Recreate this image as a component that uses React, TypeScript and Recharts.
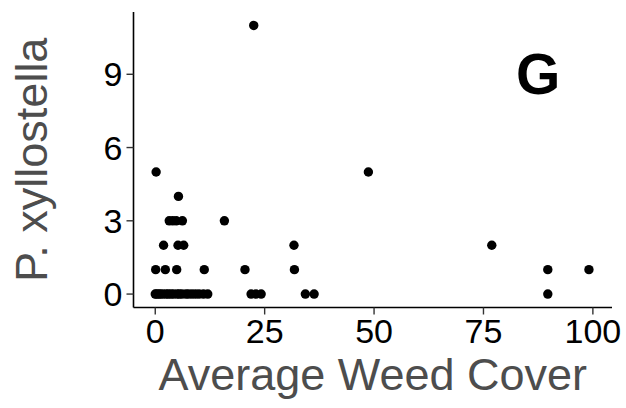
import React from 'react';
import { ScatterChart, Scatter, XAxis, YAxis, ReferenceDot } from 'recharts';

// Average weed cover (%) per plot and the P. xyllostella count recorded there
const weedCover = [
  0, 0.3, 0.8, 1.2, 1.8, 2.5, 3, 3.6, 4.2, 5, 5.5, 6.1, 7, 7.6, 8.4, 9.2, 10, 11, 12,
  21.9, 23, 24.2, 34.3, 36.3, 89.7,
  0.1, 2.3, 4.9, 11.2, 20.5, 31.8, 89.7, 99.1,
  1.9, 5.2, 6.5, 31.7, 76.9,
  3.2, 4.0, 4.8, 6.2, 15.8,
  5.3,
  0.2, 48.7,
  22.5,
];
const pxCounts = [
  0, 0, 0, 0, 0, 0, 0, 0, 0, 0, 0, 0, 0, 0, 0, 0, 0, 0, 0,
  0, 0, 0, 0, 0, 0,
  1, 1, 1, 1, 1, 1, 1, 1,
  2, 2, 2, 2, 2,
  3, 3, 3, 3, 3,
  4,
  5, 5,
  11,
];

const xTicks = [0, 25, 50, 75, 100];
const yTicks = [0, 3, 6, 9];
const panelTag = 'G';

const points = weedCover.map((x, i) => ({ x, y: pxCounts[i] }));

const FONT = '"Liberation Sans", Arial, Helvetica, sans-serif';

const XTick = (props: any) => {
  const { x, y, payload } = props;
  return (
    <text x={x} y={y} dy={28} textAnchor="middle" fontFamily={FONT} fontSize={34} fill="#000">
      {payload.value}
    </text>
  );
};

const YTick = (props: any) => {
  const { x, y, payload } = props;
  return (
    <text x={x} y={y} dy={12} textAnchor="end" fontFamily={FONT} fontSize={34} fill="#000">
      {payload.value}
    </text>
  );
};

const XTitle = (props: any) => {
  const vb = props.viewBox;
  return (
    <text
      x={vb.x + vb.width / 2}
      y={vb.y + 82}
      textAnchor="middle"
      fontFamily={FONT}
      fontSize={45}
      fill="#4d4d4d"
    >
      Average Weed Cover
    </text>
  );
};

const YTitle = (props: any) => {
  const vb = props.viewBox;
  const cx = 47;
  const cy = vb.y + vb.height / 2;
  return (
    <text
      x={cx}
      y={cy}
      textAnchor="middle"
      transform={`rotate(-90, ${cx}, ${cy})`}
      fontFamily={FONT}
      fontSize={45}
      fill="#4d4d4d"
    >
      P. xyllostella
    </text>
  );
};

const TagLabel = (props: any) => {
  const vb = props.viewBox;
  return (
    <text
      x={vb.cx ?? vb.x}
      y={(vb.cy ?? vb.y) + 20}
      textAnchor="middle"
      fontFamily={FONT}
      fontWeight="bold"
      fontSize={57}
      fill="#000"
    >
      {panelTag}
    </text>
  );
};

export default function App() {
  return (
    <div style={{ position: 'absolute', left: 0, top: 0, width: 626, height: 408, background: '#fff' }}>
      <ScatterChart width={626} height={408} margin={{ top: 12, right: 14, bottom: 0, left: 0 }}>
        <XAxis
          type="number"
          dataKey="x"
          domain={[-4.97, 104.37]}
          ticks={xTicks}
          allowDataOverflow
          height={100.5}
          tickSize={7}
          tickMargin={0}
          axisLine={{ stroke: '#000', strokeWidth: 1.6 }}
          tickLine={{ stroke: '#333', strokeWidth: 1.4 }}
          tick={<XTick />}
          label={<XTitle />}
        />
        <YAxis
          type="number"
          dataKey="y"
          domain={[-0.55, 11.55]}
          ticks={yTicks}
          allowDataOverflow
          width={133.5}
          tickSize={7}
          tickMargin={4}
          axisLine={{ stroke: '#000', strokeWidth: 1.6 }}
          tickLine={{ stroke: '#333', strokeWidth: 1.4 }}
          tick={<YTick />}
          label={<YTitle />}
        />
        <Scatter
          data={points}
          fill="#000"
          isAnimationActive={false}
          shape={(p: any) => <circle cx={p.cx} cy={p.cy} r={4.7} fill="#000" />}
        />
        <ReferenceDot x={87.5} y={9} r={0} fill="none" stroke="none" label={<TagLabel />} />
      </ScatterChart>
    </div>
  );
}
